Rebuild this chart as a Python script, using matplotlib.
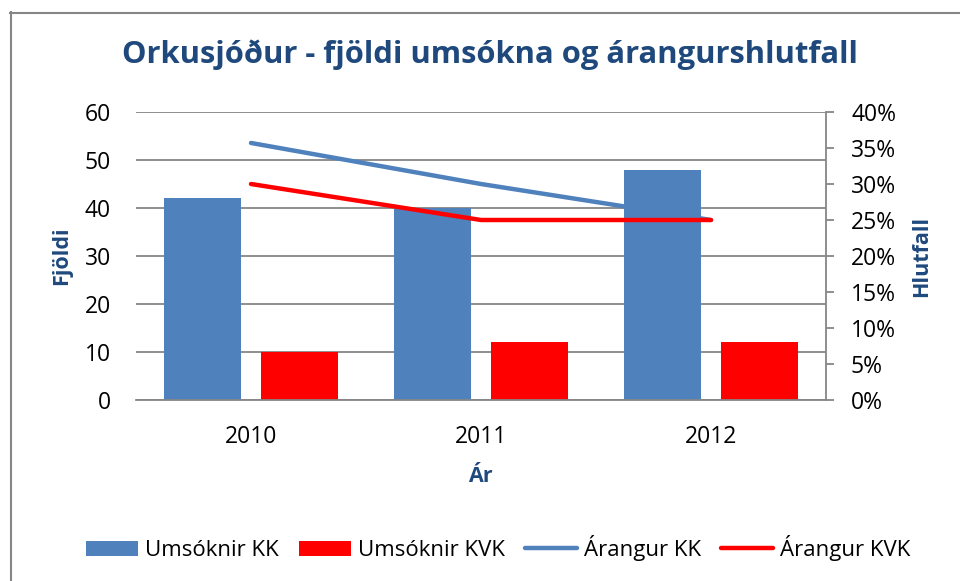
import matplotlib
matplotlib.use("Agg")
import matplotlib.pyplot as plt
from matplotlib.lines import Line2D
from matplotlib.patches import Patch
from matplotlib.ticker import FuncFormatter, MultipleLocator

plt.rcParams['font.family'] = ['Open Sans', 'DejaVu Sans']

years = ['2010', '2011', '2012']
umsoknir_kk = [42, 40, 48]
umsoknir_kvk = [10, 12, 12]
arangur_kk = [35.7, 30.0, 25.0]
arangur_kvk = [30.0, 25.0, 25.0]

title = 'Orkusjóður - fjöldi umsókna og árangurshlutfall'
ylabel_left = 'Fjöldi'
ylabel_right = 'Hlutfall'
xlabel = 'Ár'
series_names = ['Umsóknir KK', 'Umsóknir KVK', 'Árangur KK', 'Árangur KVK']

BLUE = '#4F81BD'
RED = '#FF0000'
TITLE_C = '#1F497D'
GRID = '#868686'

W, H = 960, 581
fig = plt.figure(figsize=(W / 100, H / 100), dpi=100)

def fx(px):
    return px / W

def fy(py):
    return 1 - py / H

ax = fig.add_axes([fx(136), fy(400), fx(826) - fx(136), fy(112) - fy(400)])
x = list(range(len(years)))
bw = 0.335
ax.bar([i - 0.21 for i in x], umsoknir_kk, width=bw, color=BLUE, zorder=2)
ax.bar([i + 0.21 for i in x], umsoknir_kvk, width=bw, color=RED, zorder=2)
ax.set_xlim(-0.5, 2.5)
ax.set_ylim(0, 60)
ax.yaxis.set_major_locator(MultipleLocator(10))
ax.grid(axis='y', color=GRID, lw=1.3, zorder=0)
ax.set_axisbelow(True)
for s in ['top', 'right', 'left']:
    ax.spines[s].set_visible(False)
ax.spines['bottom'].set_color(GRID)
ax.spines['bottom'].set_linewidth(1.3)
ax.set_xticks(x)
ax.set_xticklabels(years)
ax.tick_params(axis='x', length=0, pad=18, labelsize=16.5)
ax.tick_params(axis='y', length=0, pad=18, labelsize=16.5)

ax2 = ax.twinx()
ax2.set_ylim(0, 40)
ax2.yaxis.set_major_locator(MultipleLocator(5))
ax2.yaxis.set_major_formatter(FuncFormatter(lambda v, p: f'{v:.0f}%'))
ax2.plot(x, arangur_kk, color=BLUE, lw=3.2, solid_capstyle='round', zorder=3)
ax2.plot(x, arangur_kvk, color=RED, lw=3.2, solid_capstyle='round', zorder=4)
for s in ['top', 'left', 'bottom']:
    ax2.spines[s].set_visible(False)
ax2.spines['right'].set_color(GRID)
ax2.spines['right'].set_linewidth(1.3)
ax2.tick_params(axis='y', length=6, width=1.3, color=GRID, pad=12, labelsize=16.5)

fig.text(fx(490), fy(55), title, ha='center', va='center', fontsize=22.3,
         fontweight='bold', color=TITLE_C)
fig.text(fx(62), fy(256), ylabel_left, ha='center', va='center', rotation=90,
         fontsize=15.5, fontweight='bold', color=TITLE_C)
fig.text(fx(922), fy(256), ylabel_right, ha='center', va='center', rotation=90,
         fontsize=15.5, fontweight='bold', color=TITLE_C)
fig.text(fx(480), fy(476), xlabel, ha='center', va='center',
         fontsize=15.5, fontweight='bold', color=TITLE_C)

handles = [Patch(facecolor=BLUE), Patch(facecolor=RED),
           Line2D([], [], color=BLUE, lw=3.2, solid_capstyle='round'),
           Line2D([], [], color=RED, lw=3.2, solid_capstyle='round')]
fig.legend(handles, series_names, loc='center', bbox_to_anchor=(fx(498), fy(548)),
           ncol=4, frameon=False, fontsize=16, handlelength=2.35, handleheight=0.65,
           handletextpad=0.3, columnspacing=0.9, borderaxespad=0)

fig.add_artist(Line2D([fx(10.5), fx(10.5)], [fy(12), 0], color=GRID, lw=1.5))
fig.add_artist(Line2D([fx(10), 1], [fy(12.5), fy(12.5)], color=GRID, lw=1.5))

fig.savefig('out.png', dpi=100)
